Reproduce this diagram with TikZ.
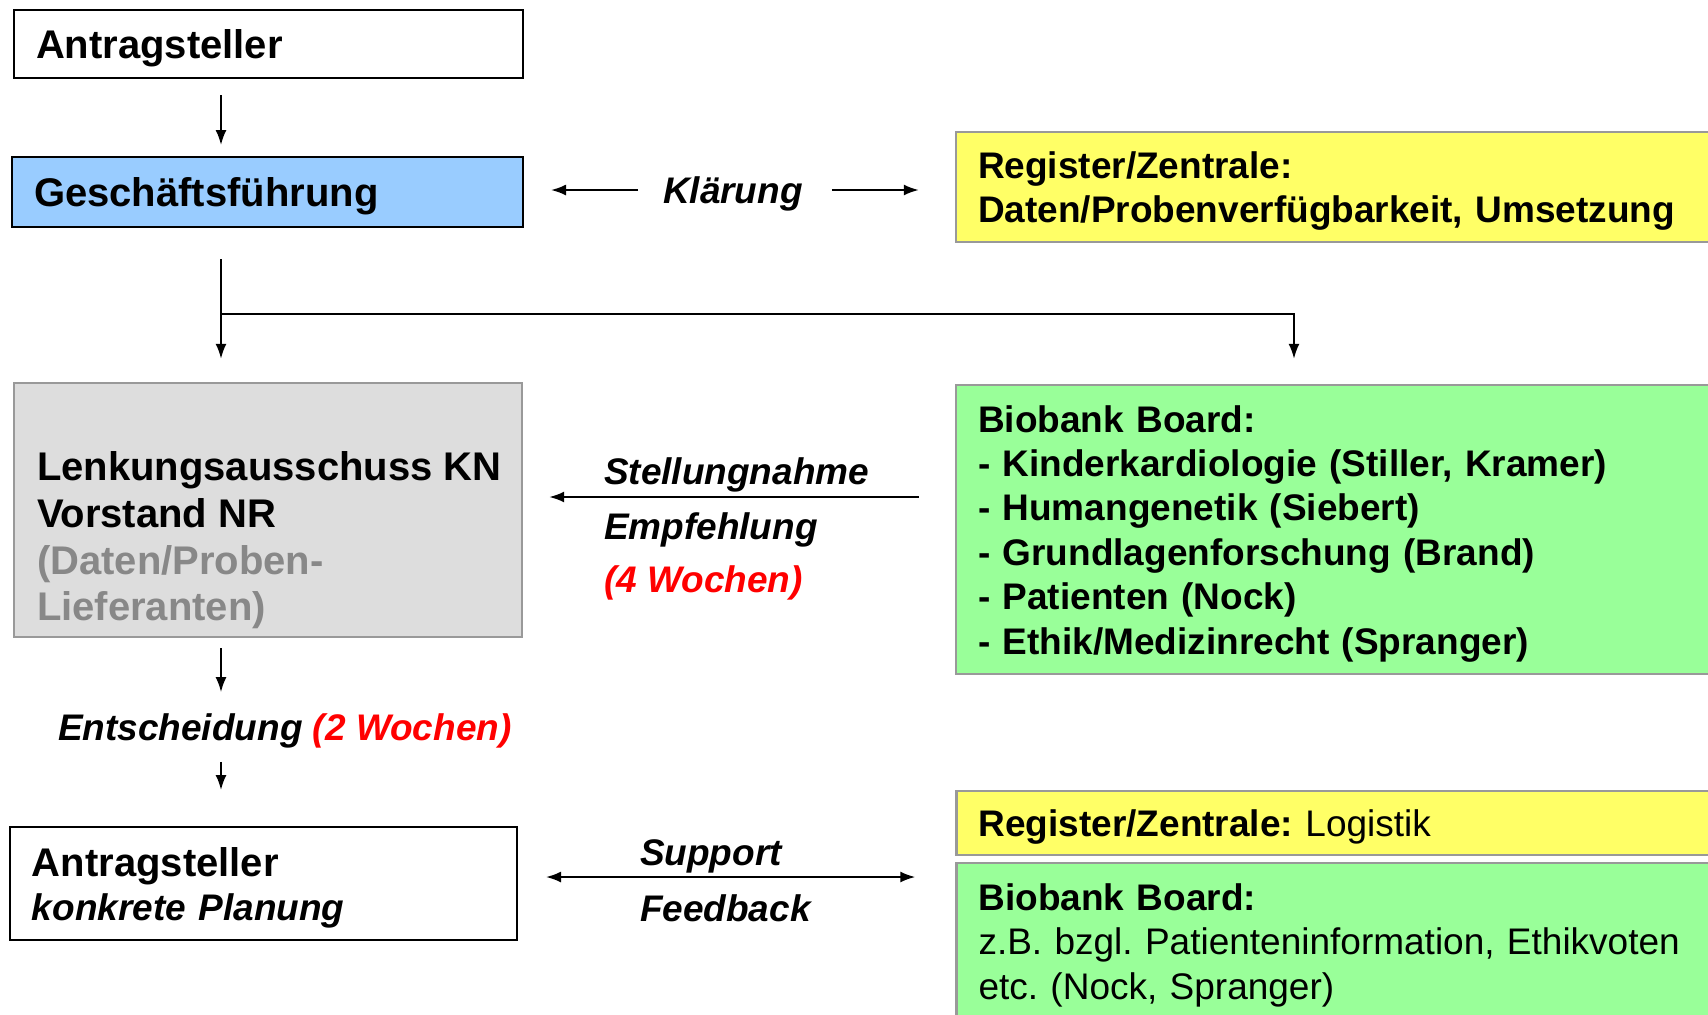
\documentclass[tikz,border=0pt]{standalone}
\usepackage{fontspec}
\setmainfont{Liberation Sans}
\usetikzlibrary{arrows.meta}
\definecolor{gfblue}{HTML}{99CCFF}
\definecolor{regyellow}{HTML}{FFFF66}
\definecolor{boardgreen}{HTML}{99FF99}
\definecolor{lenkgray}{HTML}{DDDDDD}
\definecolor{framegray}{HTML}{999999}
\definecolor{lieftext}{HTML}{888888}
\newcommand{\fbig}{\fontsize{20}{23.3}\selectfont}
\newcommand{\fsml}{\fontsize{18.5}{22.2}\selectfont}
\newcommand{\tpad}{\rule{0pt}{0.95em}}
\frenchspacing

\begin{document}
\begin{tikzpicture}[x=0.5pt, y=-0.5pt, line width=1pt, >={Latex[length=7.5pt,width=5.5pt]}]
      \tikzstyle{every node} = [inner sep = 0pt];
      \tikzstyle{leftbox} = [draw, rectangle, align=left, inner xsep=11pt, font=\fbig\bfseries];
      \tikzstyle{rightbox} = [draw=framegray, line width=1.2pt, rectangle, align=left, inner xsep=11pt, text width=380pt, font=\fsml\bfseries];
      \tikzstyle{lbl} = [anchor=west, font=\fsml\bfseries\itshape];
      \clip (0,0) rectangle (1708,1014);
      \fill[white] (0,0) rectangle (1708,1014);
      \coordinate (col) at (221,0);
      \coordinate (col2) at (1294,0);
      \coordinate (split) at (221,314);
      \coordinate (karr) at (732,190);
      \coordinate (sarr) at (734,497);
      \coordinate (sarr2) at (731,877);
      % left column
      \node[leftbox, text width=232.5pt, minimum height=34pt] (antrag) at (268.5,44) {\tpad Antragsteller};
      \node[leftbox, fill=gfblue, text width=233.5pt, minimum height=35pt] (gf) at (267.5,192) {\tpad Geschäftsführung};
      \node[leftbox, draw=framegray, line width=1.2pt, fill=lenkgray, text width=232pt, minimum height=127pt] (lenk) at (268,510) {};
      \node[anchor=west, align=left, font=\fbig\bfseries] (lenktxt) at (36,540.5)
        {Lenkungsausschuss KN\\Vorstand NR\\\textcolor{lieftext}{(Daten/Proben-}\\\textcolor{lieftext}{Lieferanten)}};
      \node[leftbox, font=\fsml\bfseries, text width=231.5pt, minimum height=56.5pt] (antrag2) at (263.5,883.5)
        {{\fbig\tpad Antragsteller}\\\itshape konkrete Planung};
      % right column
      \node[rightbox, fill=regyellow, minimum height=55pt] (reg) at (1358,187)
        {\tpad Register/Zentrale:\\Daten/Probenverfügbarkeit, Umsetzung};
      \node[rightbox, fill=boardgreen, minimum height=144.5pt] (board) at (1358,529.5)
        {\tpad Biobank Board:\\- Kinderkardiologie (Stiller, Kramer)\\- Humangenetik (Siebert)\\- Grundlagenforschung (Brand)\\- Patienten (Nock)\\- Ethik/Medizinrecht (Spranger)};
      \node[rightbox, fill=regyellow, minimum height=32pt] (logist) at (1358.5,823)
        {\tpad Register/Zentrale: \mdseries Logistik};
      \node[rightbox, fill=boardgreen, minimum height=78pt] (board2) at (1358.5,941)
        {\tpad Biobank Board:\\\mdseries z.B. bzgl. Patienteninformation, Ethikvoten\\etc. (Nock, Spranger)};
      % labels
      \node[lbl] (klar) at (662,194) {Klärung};
      \node[lbl] (stell) at (603,474.5) {Stellungnahme};
      \node[lbl] (empf) at (603,529.5) {Empfehlung};
      \node[lbl, text=red] (wochen) at (603,582.5) {(4 Wochen)};
      \node[lbl] (entsch) at (57,731) {Entscheidung \textcolor{red}{(2 Wochen)}};
      \node[lbl] (supp) at (639,856) {Support};
      \node[lbl] (feed) at (639,908) {Feedback};
      % connectors
      \draw[->, shorten <=8pt, shorten >=5.5pt] (antrag.south -| col) -- (gf.north -| col);
      \draw[->, shorten <=15.5pt, shorten >=11.5pt] (gf.south -| col) -- (lenk.north -| col);
      \draw[->, shorten >=12.5pt] (split) -| (board.north -| col2);
      \draw[->, shorten <=12pt, shorten >=13.5pt] (karr -| klar.west) -- (karr -| gf.east);
      \draw[->, shorten <=14pt, shorten >=18pt] (karr -| klar.east) -- (karr -| reg.west);
      \draw[->, shorten <=18pt, shorten >=13pt] (sarr -| board.west) -- (sarr -| lenk.east);
      \draw[->, shorten <=5pt, shorten >=10.3pt] (lenk.south -| col) -- (entsch.north -| col);
      \draw[->, shorten <=6.3pt, shorten >=18pt] (entsch.south -| col) -- (antrag2.north -| col);
      \draw[<->, shorten <=14pt, shorten >=20pt] (sarr2 -| antrag2.east) -- (sarr2 -| logist.west);
    \end{tikzpicture}
\end{document}
